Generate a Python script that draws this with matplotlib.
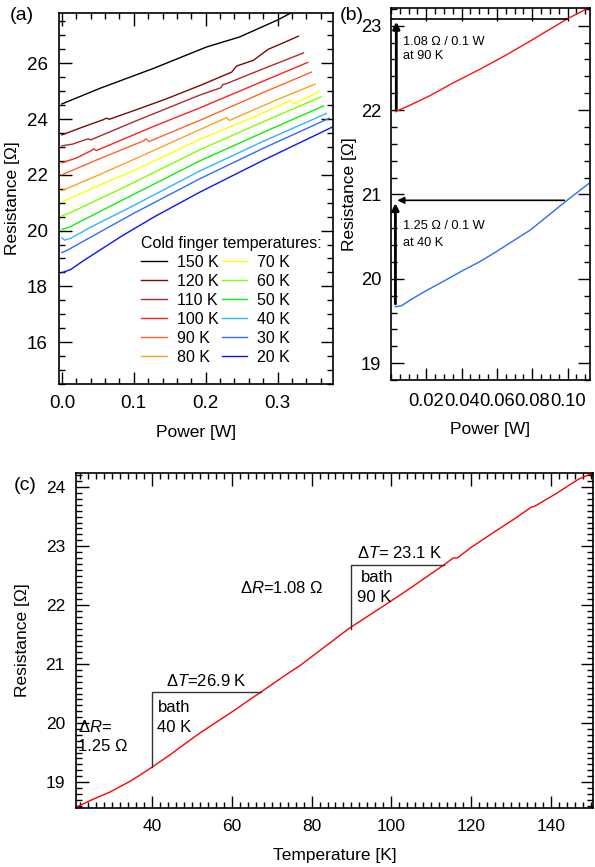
import numpy as np
import matplotlib
matplotlib.use('Agg')
import matplotlib.pyplot as plt
from matplotlib.ticker import MultipleLocator, FormatStrFormatter

plt.rcParams['font.family'] = ['Liberation Sans', 'DejaVu Sans']
plt.rcParams['mathtext.fontset'] = 'custom'
plt.rcParams['mathtext.it'] = 'Liberation Sans:italic'
plt.rcParams['mathtext.rm'] = 'Liberation Sans'

# ---- panel (a): resistance vs power for each cold finger temperature ----
temps_a = [150, 120, 110, 100, 90, 80, 70, 60, 50, 40, 30, 20]
colors_a = ['#000000', '#7a0a0a', '#b02a2a', '#ff2020', '#ff6428', '#ffa020',
            '#ffff00', '#80ff00', '#10ee10', '#30b4ff', '#2f6cff', '#0a14ff']

power_150 = [0, 0.053, 0.127, 0.201, 0.247, 0.3, 0.322]
res_150 = [24.54, 25.1, 25.81, 26.58, 26.94, 27.55, 27.85]
power_120 = [0, 0.03, 0.058, 0.062, 0.066, 0.1, 0.145, 0.192, 0.236, 0.243, 0.266, 0.287, 0.307, 0.329]
res_120 = [23.43, 23.72, 23.98, 24.03, 23.99, 24.3, 24.72, 25.2, 25.68, 25.9, 26.1, 26.5, 26.72, 26.97]
power_110 = [0, 0.015, 0.034, 0.037, 0.04, 0.1, 0.192, 0.221, 0.224, 0.228, 0.28, 0.336]
res_110 = [23.04, 23.1, 23.27, 23.29, 23.25, 23.9, 24.86, 25.12, 25.24, 25.26, 25.8, 26.37]
power_100 = [0, 0.02, 0.042, 0.044, 0.048, 0.129, 0.192, 0.27, 0.342]
res_100 = [22.43, 22.6, 22.88, 22.93, 22.87, 23.75, 24.4, 25.25, 26.03]
power_90 = [0, 0.05, 0.114, 0.117, 0.121, 0.199, 0.28, 0.347]
res_90 = [22.0, 22.55, 23.22, 23.29, 23.19, 24.03, 24.95, 25.68]
power_80 = [0, 0.05, 0.1, 0.192, 0.229, 0.233, 0.3, 0.352]
res_80 = [21.43, 21.98, 22.55, 23.62, 24.05, 23.95, 24.7, 25.25]
power_70 = [0, 0.05, 0.1, 0.192, 0.26, 0.318, 0.323, 0.357]
res_70 = [21.03, 21.6, 22.15, 23.27, 24.0, 24.66, 24.55, 24.96]
power_60 = [0, 0.01, 0.1, 0.192, 0.28, 0.36]
res_60 = [20.53, 20.62, 21.72, 22.9, 23.9, 24.79]
power_50 = [0, 0.01, 0.1, 0.192, 0.28, 0.364]
res_50 = [20.04, 20.12, 21.3, 22.5, 23.52, 24.47]
power_40 = [0, 0.004, 0.012, 0.04, 0.1, 0.192, 0.28, 0.368]
res_40 = [19.74, 19.66, 19.72, 20.12, 20.9, 22.14, 23.2, 24.2]
power_30 = [0, 0.008, 0.03, 0.1, 0.192, 0.28, 0.372]
res_30 = [19.21, 19.3, 19.62, 20.62, 21.86, 22.95, 24.03]
power_20 = [0, 0.012, 0.03, 0.083, 0.129, 0.192, 0.28, 0.376]
res_20 = [18.49, 18.6, 18.92, 19.8, 20.5, 21.38, 22.52, 23.71]

powers_a = [power_150, power_120, power_110, power_100, power_90, power_80,
            power_70, power_60, power_50, power_40, power_30, power_20]
res_a = [res_150, res_120, res_110, res_100, res_90, res_80,
         res_70, res_60, res_50, res_40, res_30, res_20]

# ---- panel (b): two selected curves ----
power_b90 = [0.0025, 0.011, 0.022, 0.035, 0.05, 0.065, 0.079, 0.0997, 0.1127]
res_b90 = [21.98, 22.06, 22.17, 22.32, 22.48, 22.65, 22.82, 23.08, 23.22]
power_b40 = [0.0025, 0.006, 0.011, 0.02, 0.028, 0.04, 0.05, 0.058, 0.079, 0.0997, 0.1127]
res_b40 = [19.67, 19.68, 19.75, 19.86, 19.95, 20.09, 20.2, 20.3, 20.58, 20.93, 21.14]

# ---- panel (c): resistance vs temperature ----
temp_c = [21.25, 25, 29.5, 35, 40, 44.5, 52, 60.3, 63.5, 67.4, 74.5, 77, 89.5, 99.5,
          105, 113.1, 115.5, 116.5, 120, 126, 131, 135, 136, 141, 147, 150.5]
res_c = [18.58, 18.7, 18.83, 19.03, 19.25, 19.46, 19.83, 20.2, 20.35, 20.53, 20.86, 20.97,
         21.61, 22.05, 22.3, 22.68, 22.8, 22.8, 22.98, 23.25, 23.47, 23.66, 23.68, 23.88,
         24.14, 24.24]

W, H = 595, 867
fig = plt.figure(figsize=(W / 100, H / 100), dpi=100)


def box(l, t, r, b):
    return [l / W, 1 - b / H, (r - l) / W, (b - t) / H]


def style(ax, maj=9, mino=4.5):
    ax.tick_params(which='both', direction='in', top=True, right=True, width=1)
    ax.tick_params(which='major', length=maj)
    ax.tick_params(which='minor', length=mino)
    for s in ax.spines.values():
        s.set_linewidth(1.2)


# (a)
ax1 = fig.add_axes(box(59, 13, 333, 384))
for p, r, t, c in zip(powers_a, res_a, temps_a, colors_a):
    ax1.plot(p, r, color=c, lw=1.0, label=f'{t} K')
ax1.set_xlim(-0.004, 0.377)
ax1.set_ylim(14.5, 27.8)
ax1.xaxis.set_major_locator(MultipleLocator(0.1))
ax1.xaxis.set_minor_locator(MultipleLocator(0.02))
ax1.yaxis.set_major_locator(MultipleLocator(2))
ax1.yaxis.set_minor_locator(MultipleLocator(0.5))
ax1.xaxis.set_major_formatter(FormatStrFormatter('%.1f'))
style(ax1)
ax1.tick_params(labelsize=13.5, pad=8)
ax1.set_xlabel('Power [W]', fontsize=12.5, labelpad=9)
ax1.set_ylabel('Resistance [Ω]', fontsize=12.5, labelpad=5)
leg = ax1.legend(ncol=2, title='Cold finger temperatures:', frameon=False,
                 loc='upper left', bbox_to_anchor=(0.26, 0.43), fontsize=11.5,
                 title_fontsize=11.5, handlelength=1.6, handletextpad=0.6,
                 columnspacing=0.2, labelspacing=0.25, borderpad=0.2)
leg._legend_box.align = 'left'
fig.text(10 / W, 1 - 16 / H, '(a)', fontsize=14, va='center')

# (b)
ax2 = fig.add_axes(box(391, 8, 590, 380))
ax2.plot(power_b90, res_b90, color='#ff1010', lw=1.0)
ax2.plot(power_b40, res_b40, color='#2a6cff', lw=1.0)
ax2.set_xlim(0, 0.1127)
ax2.set_ylim(18.8, 23.21)
ax2.xaxis.set_major_locator(MultipleLocator(0.02))
ax2.xaxis.set_minor_locator(MultipleLocator(0.005))
ax2.yaxis.set_major_locator(MultipleLocator(1))
ax2.yaxis.set_minor_locator(MultipleLocator(0.2))
ax2.xaxis.set_major_formatter(FormatStrFormatter('%.2f'))
style(ax2)
ax2.tick_params(labelsize=13.2, pad=9)
ax2.tick_params(axis='y', pad=7)
ax2.set_xticks([0.02, 0.04, 0.06, 0.08, 0.10])
ax2.set_xlabel('Power [W]', fontsize=12.5, labelpad=9)
ax2.set_ylabel('Resistance [Ω]', fontsize=12.5, labelpad=3)
# top annotation (90 K)
ax2.plot([0, power_b90[7]], [res_b90[7], res_b90[7]], color='black', lw=1.2)
ax2.annotate('', xy=(0.003, res_b90[7]), xytext=(0.003, res_b90[0]),
             arrowprops=dict(arrowstyle='-|>', color='black', lw=2, mutation_scale=10))
ax2.text(0.0068, 22.81, '1.08 Ω / 0.1 W', fontsize=9.2, va='center')
ax2.text(0.0068, 22.64, 'at 90 K', fontsize=9.2, va='center')
# bottom annotation (40 K)
ax2.annotate('', xy=(0.002, res_b40[9]), xytext=(power_b40[9], res_b40[9]),
             arrowprops=dict(arrowstyle='-|>', color='black', lw=1.2, mutation_scale=10))
ax2.annotate('', xy=(0.0025, res_b40[9]), xytext=(0.0025, res_b40[0]),
             arrowprops=dict(arrowstyle='-|>', color='black', lw=2, mutation_scale=10))
ax2.text(0.0068, 20.62, '1.25 Ω / 0.1 W', fontsize=9.2, va='center')
ax2.text(0.0068, 20.43, 'at 40 K', fontsize=9.2, va='center')
fig.text(340 / W, 1 - 16 / H, '(b)', fontsize=14, va='center')

# (c)
ax3 = fig.add_axes(box(76, 473, 593, 808))
ax3.plot(temp_c, res_c, color='#ff0000', lw=1.0)
ax3.set_xlim(21, 150.5)
ax3.set_ylim(18.56, 24.24)
ax3.xaxis.set_major_locator(MultipleLocator(20))
ax3.xaxis.set_minor_locator(MultipleLocator(2))
ax3.yaxis.set_major_locator(MultipleLocator(1))
ax3.yaxis.set_minor_locator(MultipleLocator(0.1))
style(ax3, maj=9, mino=4.5)
ax3.tick_params(labelsize=12.5, pad=8)
ax3.set_xlabel('Temperature [K]', fontsize=12.5, labelpad=10)
ax3.set_ylabel('Resistance [Ω]', fontsize=12.5, labelpad=11)
# steps
ax3.plot([40, 40, 67.4], [19.25, 20.53, 20.53], color='#333333', lw=1.0)
ax3.plot([89.8, 89.8, 113.2], [21.6, 22.68, 22.68], color='#333333', lw=1.0)
ax3.text(53.7, 20.71, r'$\Delta T$=26.9 K', fontsize=12, ha='center', va='center')
ax3.text(41.5, 20.27, 'bath', fontsize=12, va='center')
ax3.text(41.3, 19.93, '40 K', fontsize=12, va='center')
ax3.text(21.6, 19.93, r'$\Delta R$=', fontsize=12, va='center')
ax3.text(21.6, 19.6, '1.25 Ω', fontsize=12, va='center')
ax3.text(62, 22.29, r'$\Delta R$=1.08 Ω', fontsize=12, va='center')
ax3.text(102, 22.88, r'$\Delta T$= 23.1 K', fontsize=12, ha='center', va='center')
ax3.text(92.3, 22.47, 'bath', fontsize=12, va='center')
ax3.text(91.3, 22.13, '90 K', fontsize=12, va='center')
fig.text(14 / W, 1 - 485 / H, '(c)', fontsize=14, va='center')

fig.savefig('out.png', dpi=100)
